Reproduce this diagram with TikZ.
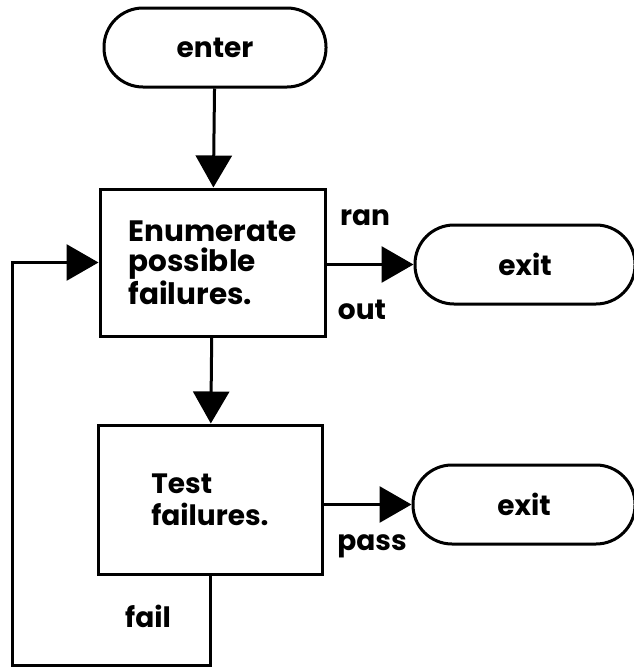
\documentclass[tikz,border=0pt]{standalone}
\usepackage{fontspec}
\setmainfont{Poppins}
\usetikzlibrary{arrows.meta}
\begin{document}
\begin{tikzpicture}[x=1pt,y=-1pt,line width=3pt,
  txt/.style={font=\fontsize{28}{32}\selectfont\bfseries},
  bigtxt/.style={font=\fontsize{29.5}{30.5}\selectfont\bfseries},
  term/.style={draw,rounded corners=39pt,minimum width=220pt,minimum height=79pt,txt},
  procbox/.style={draw,align=left,txt,inner sep=0pt},
  lbl/.style={txt,inner sep=0pt},
  flow/.style={-{Triangle[length=32pt,width=36pt]}}]
\useasboundingbox (0,0) rectangle (633,667);
\node[term,minimum width=222pt] (enter) at (215,47.5) {enter};
\node[procbox,bigtxt,minimum width=225pt,minimum height=147pt] (enum) at (212.5,262.5) {Enumerate\\possible\\failures.};
\node[term,minimum width=220pt] (exit1) at (525,264.5) {exit};
\node[procbox,minimum width=224pt,minimum height=149pt] (test) at (210,499.5) {Test\\failures.};
\node[term,minimum width=222pt] (exit2) at (524,504.5) {exit};
\node[lbl] (ran) at (365,218) {ran};
\node[lbl] (out) at (362,310) {out};
\node[lbl] (pass) at (372,546) {pass};
\node[lbl] (fail) at (148,616) {fail};
\coordinate (c1) at (210,665);
\coordinate (c2) at (12,665);
\draw[flow] (enter) -- (enum);
\draw[flow] (enum.east |- exit1) -- (exit1.west);
\draw[flow] (enum) -- (test);
\draw[flow] (test.east |- exit2) -- (exit2.west);
\draw[flow] (test.south) -- (c1) -- (c2) -- (c2 |- enum.west) -- (enum.west);
\end{tikzpicture}
\end{document}
